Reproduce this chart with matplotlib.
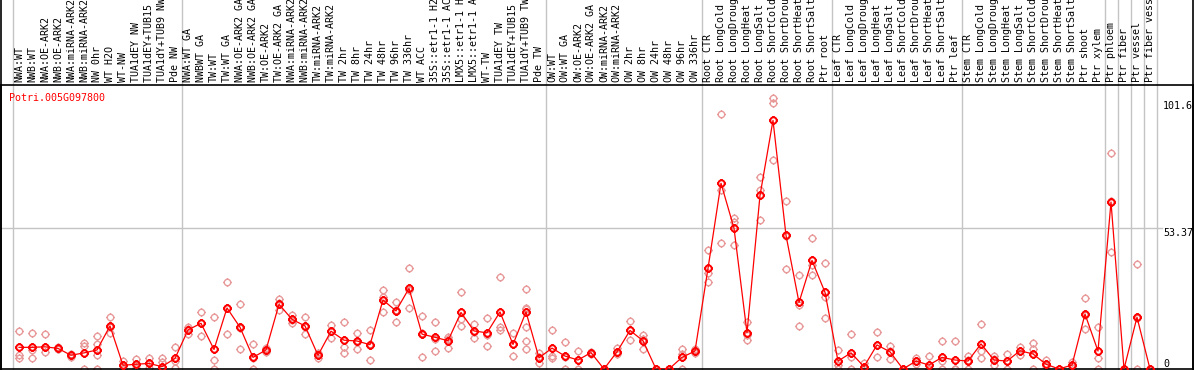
import numpy as np
import matplotlib
matplotlib.use("Agg")
import matplotlib.pyplot as plt
from matplotlib.path import Path
from matplotlib.lines import Line2D

# sample names, in plotting order
samples = [
    "NWA:WT", "NWB:WT", "NWA:OE-ARK2", "NWB:OE-ARK2", "NWA:miRNA-ARK2",
    "NWB:miRNA-ARK2", "NW 0hr", "WT H2O", "WT-NW", "TUA1dEY NW",
    "TUA1dEY+TUB15 NW", "TUA1dY+TUB9 NW", "Pde NW",
    "NWA:WT GA", "NWBWT GA", "TW:WT", "TW:WT GA", "NWA:OE-ARK2 GA",
    "NWB:OE-ARK2 GA", "TW:OE-ARK2", "TW:OE-ARK2 GA", "NWA:miRNA-ARK2 GA",
    "NWB:miRNA-ARK2 GA", "TW:miRNA-ARK2", "TW:miRNA-ARK2 GA", "TW 2hr",
    "TW 8hr", "TW 24hr", "TW 48hr", "TW 96hr", "TW 336hr", "WT ACC",
    "35S::etr1-1 H2O", "35S::etr1-1 ACC", "LMX5::etr1-1 H2O",
    "LMX5::etr1-1 ACC", "WT-TW", "TUA1dEY TW", "TUA1dEY+TUB15 TW",
    "TUA1dY+TUB9 TW", "Pde TW",
    "OW:WT", "OW:WT GA", "OW:OE-ARK2", "OW:OE-ARK2 GA", "OW:miRNA-ARK2",
    "OW:miRNA-ARK2 GA", "OW 2hr", "OW 8hr", "OW 24hr", "OW 48hr", "OW 96hr",
    "OW 336hr",
    "Root CTR", "Root LongCold", "Root LongDrought", "Root LongHeat",
    "Root LongSalt", "Root ShortCold", "Root ShortDrought", "Root ShortHeat",
    "Root ShortSalt", "Ptr root",
    "Leaf CTR", "Leaf LongCold", "Leaf LongDrought", "Leaf LongHeat",
    "Leaf LongSalt", "Leaf ShortCold", "Leaf ShortDrought", "Leaf ShortHeat",
    "Leaf ShortSalt", "Ptr leaf",
    "Stem CTR", "Stem LongCold", "Stem LongDrought", "Stem LongHeat",
    "Stem LongSalt", "Stem ShortCold", "Stem ShortDrought", "Stem ShortHeat",
    "Stem ShortSalt", "Ptr shoot", "Ptr xylem",
    "Ptr phloem", "Ptr fiber", "Ptr vessel", "Ptr fiber vessel",
]

# index where each group starts (plus the end)
group_starts = [0, 13, 41, 53, 63, 73, 84, 85, 86, 87, 88]

means = [
    8.2, 8.2, 8.4, 7.8, 5.2, 6.1, 7.2, 16.3, 1.4, 1.8, 2.1, 0.9, 4.0,
    14.8, 17.3, 7.4, 23.1, 15.8, 4.4, 7.2, 24.5, 18.8, 16.3, 5.2, 14.3,
    10.9, 10.6, 9.2, 26.1, 22.0, 30.5, 13.2, 12.0, 10.7, 21.4, 14.4, 13.7,
    21.6, 9.3, 21.6, 4.2,
    7.9, 4.9, 3.4, 6.2, 0.0, 6.5, 14.6, 10.7, 0.0, 0.0, 4.4, 6.8,
    38.1, 70.3, 53.3, 13.7, 65.7, 94.1, 50.6, 25.2, 41.1, 29.0,
    3.0, 6.1, 0.9, 9.1, 6.5, 0.0, 3.0, 1.5, 4.4, 3.4,
    3.0, 9.5, 3.4, 3.0, 6.9, 5.7, 1.8, 0.0, 1.5, 20.8, 6.8,
    63.2, 0.0, 19.6, 0.0,
]

replicates = [
    [14.3, 5.3, 4.0], [13.5, 4.0, 7.1], [13.1, 6.5, 8.4], [8.4, 7.4, 7.6],
    [5.6, 4.6, 5.2], [9.7, 8.7, 0.0], [12.5, 9.5, 5.2, 0.0],
    [19.6, 13.5, 15.8], [3.1, 1.0, 0.0], [3.7, 1.5, 0.3], [4.0, 2.1, 0.3],
    [4.0, 2.7, 0.0], [8.2, 3.0, 0.5],
    [15.8, 13.2, 15.2], [21.7, 12.5, 17.5], [19.6, 3.4, 0.0],
    [32.8, 13.2, 23.1], [24.5, 7.7, 15.5], [9.5, 4.0, 0.0], [7.8, 7.0, 6.6],
    [26.4, 24.9, 22.3], [20.4, 18.5, 17.5], [19.8, 13.2, 16.0],
    [6.0, 4.0, 5.5], [16.6, 11.6, 14.5], [17.9, 8.4, 5.9],
    [13.7, 7.7, 10.4], [14.6, 3.4, 9.6], [29.9, 27.1, 21.7],
    [25.2, 17.9, 22.5], [38.2, 23.0, 30.0], [20.2, 4.7, 13.5],
    [17.9, 6.7, 11.5], [12.0, 8.0, 11.5], [29.0, 16.3, 19.0],
    [17.0, 11.8, 14.0], [19.2, 12.9, 8.7], [34.7, 14.6, 16.0],
    [13.7, 4.9, 9.3], [30.3, 22.7, 15.8, 10.7, 7.7, 23.0], [5.9, 2.2, 4.5],
    [14.6, 4.0, 5.0], [10.2, 0.0, 4.5], [6.7, 0.0, 3.4], [6.2, 5.8, 6.5],
    [0.0, 0.0, 0.0], [7.8, 6.0, 5.6], [18.2, 10.9, 14.6], [13.0, 7.7, 11.5],
    [0.0, 0.0, 0.0], [0.0, 0.0, 0.0], [7.6, 0.0, 5.5], [7.6, 6.5, 6.2],
    [45.0, 36.2, 32.8], [96.5, 67.8, 47.6], [57.3, 55.8, 46.9],
    [17.7, 10.9, 13.0], [72.8, 67.8, 56.4], [102.4, 100.8, 79.1],
    [63.6, 37.7, 50.5], [35.6, 24.1, 16.2], [49.5, 35.6, 39.4],
    [40.1, 27.4, 19.3],
    [7.2, 1.5, 0.0], [13.2, 4.4, 0.0], [2.4, 0.0, 0.5], [14.0, 4.4, 9.0],
    [8.7, 3.7, 7.0], [0.0, 0.0, 0.0], [3.0, 2.0, 4.0], [4.9, 0.0, 0.0],
    [10.6, 0.0, 3.0], [10.6, 0.0, 0.0],
    [4.9, 0.0, 3.5], [17.0, 6.8, 4.0], [4.9, 1.5, 3.8], [5.7, 0.0, 3.0],
    [8.3, 5.3, 7.0], [10.0, 7.4, 0.0], [3.4, 1.0, 1.5], [0.0, 0.0, 0.0],
    [2.8, 1.0, 0.5], [26.8, 15.3, 20.5], [16.0, 4.0, 0.0],
    [81.6, 44.4, 63.6], [0.0, 0.0, 0.0], [39.7, 0.0, 19.3], [0.0, 0.0, 0.0],
]

gene = "Potri.005G097800"
ytick_vals = [101.6, 53.37, 0]
ytick_text = ["101.6", "53.37", "0"]

RED = "#ff0000"
PINK = "#e89a9a"
GRID = "#c4c4c4"
FONT = "DejaVu Sans Mono"

W, H = 1194, 370
fig = plt.figure(figsize=(W / 100, H / 100), dpi=100)

# plot area in pixels: x 1..1193, y 85..369 (from top)
ax = fig.add_axes([1 / W, 1 / H, 1192 / W, 284 / H])
px_per_unit = 2.642
ax.set_ylim(0, 284 / px_per_unit)
ax.set_xlim((1 - 19) / 13, (1193 - 19) / 13)
ax.set_xticks([])
ax.set_yticks([])
for sp in ax.spines.values():
    sp.set_linewidth(1.2)
    sp.set_color("black")

# circle marker with little ticks around it
circ = Path.unit_circle()
tick_verts = [(0, 1), (0, 1.35), (0, -1), (0, -1.35),
              (1, 0), (1.35, 0), (-1, 0), (-1.35, 0)]
tick_codes = [Path.MOVETO, Path.LINETO] * 4
ticks = Path(tick_verts, tick_codes)
gear = Path.make_compound_path(circ, ticks)

x = np.arange(len(samples))

# group separators, run up through the label header
for g in group_starts:
    ax.plot([g - 0.5, g - 0.5], [0, 500], color=GRID, lw=1.0,
            clip_on=False, zorder=1)

# horizontal guide at the middle value
ax.plot([ax.get_xlim()[0], 87.95], [53.37, 53.37], color=GRID, lw=1.0,
        zorder=1)

# replicates
for i, reps in enumerate(replicates):
    ax.plot([i] * len(reps), reps, linestyle="none", marker=gear,
            markersize=6.2, markerfacecolor="none", markeredgecolor=PINK,
            markeredgewidth=1.0, zorder=2, clip_on=True)

# mean line
ax.plot(x, means, color=RED, lw=0.9, marker=gear, markersize=6.2,
        markerfacecolor="none", markeredgecolor=RED, markeredgewidth=1.4,
        zorder=3)

# right-hand value labels
for v, t in zip(ytick_vals, ytick_text):
    ax.text(88.0, v, t, ha="left", va="bottom" if v == 0 else "top",
            fontsize=7.2, family=FONT, color="black")

# sample labels in the header
for i, name in enumerate(samples):
    ax.text(i, 284 / px_per_unit + 1.0, name, rotation=90, ha="center",
            va="bottom", fontsize=7.2, family=FONT, color="black",
            clip_on=False)

# outer borders of the header
fig.add_artist(Line2D([1 / W, 1 / W], [0, 1], color="black", lw=1.2))
fig.add_artist(Line2D([1193 / W, 1193 / W], [0, 1], color="black", lw=1.2))

fig.text(9 / W, 1 - 98 / H, gene, ha="left", va="center", fontsize=7.2,
         family=FONT, color=RED)

fig.savefig("out.png", dpi=100)
